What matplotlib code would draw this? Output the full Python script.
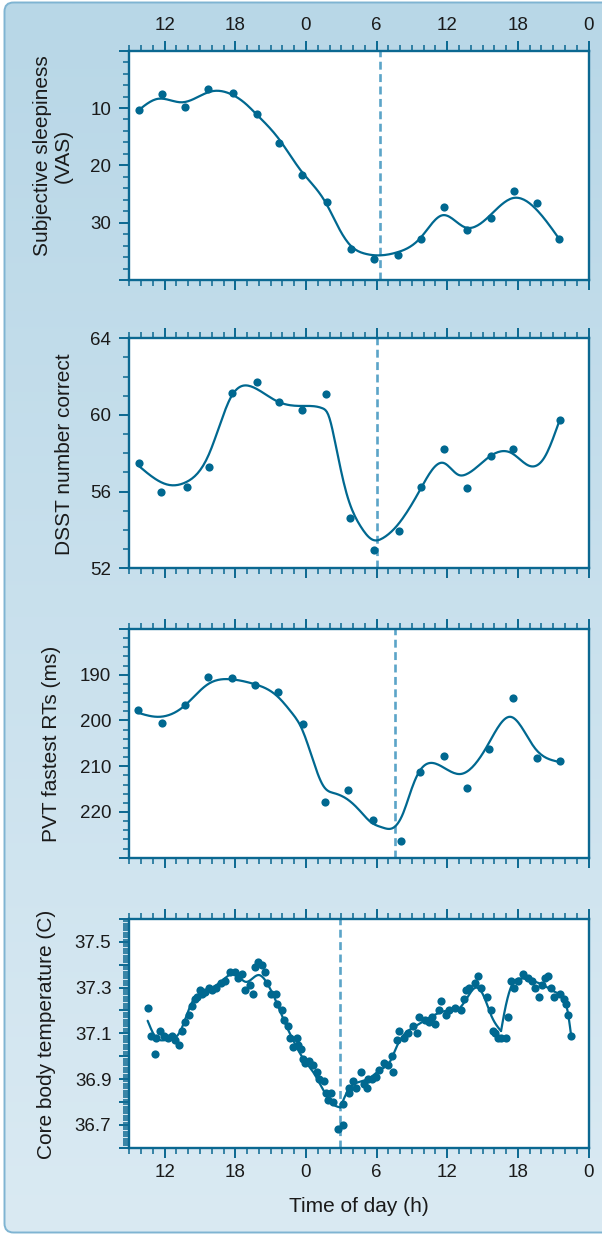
import numpy as np
import matplotlib
matplotlib.use("Agg")
import matplotlib.pyplot as plt
from matplotlib.ticker import MultipleLocator, FixedLocator, FuncFormatter
from matplotlib.patches import FancyBboxPatch

plt.rcParams['font.family'] = ['Liberation Sans', 'DejaVu Sans']

# ---------------- data (hours since midnight of day 1) ----------------
vas_hours = [9.8, 11.8, 13.7, 15.7, 17.8, 19.8, 21.7, 23.7, 25.8, 27.8,
             29.8, 31.8, 33.8, 35.7, 37.7, 39.7, 41.7, 43.6, 45.5]
vas_values = [10.4, 7.6, 9.9, 6.7, 7.4, 11.0, 16.1, 21.7, 26.4, 34.6,
              36.4, 35.7, 32.9, 27.3, 31.3, 29.2, 24.5, 26.6, 32.9]
vas_fit_hours = [9.8, 11.4, 13.5, 15.95, 17.6, 18.9, 19.75, 21.7, 23.6, 25.7,
                 26.7, 27.7, 29.0, 30.3, 31.7, 33.75, 35.6, 37.5, 39.6, 41.6,
                 43.5, 45.5]
vas_fit_values = [10.35, 8.4, 9.0, 7.1, 7.55, 9.3, 11.0, 15.4, 21.0, 26.6,
                  30.6, 33.8, 35.4, 35.7, 35.2, 32.6, 28.7, 30.8, 28.8, 25.7,
                  27.55, 32.8]
vas_marker = 30.3

dsst_hours = [9.8, 11.7, 13.9, 15.8, 17.7, 19.8, 21.7, 23.7, 25.7, 27.75,
              29.8, 31.9, 33.8, 35.75, 37.7, 39.7, 41.6, 45.6]
dsst_values = [57.5, 56.0, 56.24, 57.3, 61.17, 61.74, 60.66, 60.24, 61.08, 54.63,
               52.97, 53.93, 56.23, 58.2, 56.17, 57.88, 58.21, 59.72]
dsst_fit_hours = [9.78, 12.36, 13.83, 15.72, 16.92, 17.6, 19.5, 21.6, 23.6, 25.4,
                  25.9, 26.5, 27.36, 28.66, 29.7, 30.6, 31.7, 33.7, 35.67, 36.97,
                  37.6, 39.6, 41.5, 43.0, 44.3, 45.45]
dsst_fit_values = [57.35, 56.35, 56.5, 57.9, 59.9, 60.9, 61.45, 60.7, 60.47, 60.35,
                   60.0, 58.5, 56.1, 54.17, 53.48, 53.6, 54.2, 56.1, 57.5, 56.87,
                   56.9, 57.83, 58.0, 57.34, 57.83, 59.56]
dsst_marker = 30.0

pvt_hours = [9.77, 11.76, 13.7, 15.7, 17.75, 19.7, 21.65, 23.75, 25.6, 27.6,
             29.7, 32.05, 33.7, 35.7, 37.65, 39.55, 41.55, 43.6, 45.55]
pvt_values = [197.8, 200.5, 196.6, 190.4, 190.8, 192.2, 193.8, 200.8, 217.8, 215.1,
              221.8, 226.3, 211.3, 207.8, 214.7, 206.3, 195.1, 208.1, 208.8]
pvt_fit_hours = [9.72, 11.38, 13.63, 15.65, 17.64, 19.56, 21.52, 22.79, 23.61, 24.42,
                 25.5, 26.4, 27.5, 28.6, 29.5, 30.5, 31.3, 32.25, 32.9, 33.55,
                 35.18, 37.14, 39.39, 41.38, 43.43, 45.39]
pvt_fit_values = [198.3, 199.2, 196.9, 192.1, 191.0, 192.0, 194.6, 198.3, 201.6, 207.3,
                  214.4, 215.9, 217.2, 219.8, 222.2, 223.4, 223.6, 220.3, 215.5, 211.5,
                  209.6, 211.7, 205.6, 199.2, 206.0, 209.0]
pvt_marker = 31.6

temp_hours = [10.57, 10.83, 11.15, 11.28, 11.61, 11.93, 12.26, 12.65, 12.91, 13.24,
              13.50, 13.73, 14.05, 14.31, 14.58, 14.77, 14.97, 15.19, 15.46, 15.78,
              16.04, 16.34, 16.76, 17.09, 17.51, 18.00, 18.23, 18.59, 18.78, 19.21,
              19.47, 19.69, 19.92, 20.28, 20.51, 20.67, 21.00, 21.42, 21.55, 21.98,
              22.14, 22.47, 22.63, 22.89, 23.22, 23.35, 23.61, 23.71, 23.93, 24.26,
              24.59, 24.91, 25.07, 25.56, 25.73, 25.89, 26.12, 26.31, 26.70, 27.13,
              27.13, 27.62, 27.69, 28.01, 28.24, 28.66, 28.92, 29.18, 29.25, 29.64,
              29.97, 30.19, 30.62, 31.01, 31.27, 31.43, 31.69, 31.92, 32.31, 32.64,
              33.06, 33.39, 33.62, 34.11, 34.43, 34.69, 34.95, 35.28, 35.44, 35.90,
              36.16, 36.65, 37.14, 37.46, 37.56, 37.86, 38.38, 38.61, 38.83, 39.42,
              39.68, 39.88, 40.07, 40.33, 40.56, 40.95, 41.12, 41.38, 41.64, 42.03,
              42.42, 42.84, 43.17, 43.43, 43.82, 44.08, 44.31, 44.57, 44.80, 45.06,
              45.62, 45.88, 46.10, 46.27, 46.53]
temp_values = [37.21, 37.09, 37.01, 37.08, 37.11, 37.09, 37.08, 37.09, 37.07, 37.05,
               37.11, 37.15, 37.18, 37.22, 37.25, 37.26, 37.29, 37.27, 37.28, 37.30,
               37.29, 37.30, 37.32, 37.33, 37.37, 37.37, 37.34, 37.36, 37.29, 37.31,
               37.27, 37.39, 37.41, 37.40, 37.37, 37.32, 37.27, 37.27, 37.23, 37.20,
               37.16, 37.13, 37.08, 37.04, 37.08, 37.05, 37.03, 36.99, 36.97, 36.98,
               36.96, 36.93, 36.90, 36.89, 36.84, 36.81, 36.84, 36.80, 36.68, 36.70,
               36.79, 36.84, 36.86, 36.89, 36.86, 36.93, 36.88, 36.86, 36.90, 36.90,
               36.91, 36.94, 36.97, 36.96, 37.00, 36.93, 37.07, 37.11, 37.08, 37.10,
               37.13, 37.10, 37.17, 37.16, 37.15, 37.17, 37.14, 37.20, 37.24, 37.18,
               37.20, 37.21, 37.20, 37.25, 37.29, 37.30, 37.32, 37.35, 37.30, 37.26,
               37.20, 37.11, 37.10, 37.08, 37.08, 37.08, 37.17, 37.33, 37.30, 37.33,
               37.36, 37.34, 37.33, 37.30, 37.26, 37.31, 37.34, 37.35, 37.30, 37.26,
               37.27, 37.25, 37.23, 37.18, 37.09]
temp_fit_hours = [10.55, 11.2, 12.0, 12.62, 13.33, 14.17, 15.17, 16.2, 17.1, 17.97,
                  18.9, 20.0, 20.8, 21.5, 22.2, 22.93, 23.64, 24.62, 25.6, 26.3,
                  26.92, 27.57, 28.42, 29.42, 30.4, 31.1, 31.6, 32.25, 33.1, 34.2,
                  35.33, 36.18, 37.03, 37.74, 38.45, 39.15, 39.72, 40.57, 40.85, 41.14,
                  41.4, 42.2, 43.2, 44.2, 45.2, 45.9, 46.25, 46.5]
temp_fit_values = [37.155, 37.085, 37.07, 37.075, 37.11, 37.22, 37.28, 37.305, 37.34, 37.36,
                   37.325, 37.355, 37.31, 37.235, 37.148, 37.068, 37.0, 36.93, 36.84, 36.79,
                   36.776, 36.85, 36.886, 36.905, 36.944, 36.973, 37.03, 37.09, 37.125, 37.16,
                   37.19, 37.2, 37.21, 37.26, 37.30, 37.257, 37.18, 37.11, 37.19, 37.257,
                   37.30, 37.34, 37.33, 37.31, 37.28, 37.25, 37.19, 37.10]
temp_corners = [26.92, 40.57]
temp_marker = 26.92

hour_ticks = [12, 18, 24, 30, 36, 42, 48]
hour_labels = ['12', '18', '0', '6', '12', '18', '0']

# ---------------- styling ----------------
DARK = '#0b6891'
DOT = '#006890'
DASH = '#5ba4c8'
W, H = 602, 1236


def natural_spline(xk, yk, xs):
    xk = np.asarray(xk, float)
    yk = np.asarray(yk, float)
    n = len(xk)
    h = np.diff(xk)
    A = np.zeros((n, n))
    r = np.zeros(n)
    A[0, 0] = A[-1, -1] = 1.0
    for i in range(1, n - 1):
        A[i, i - 1] = h[i - 1]
        A[i, i] = 2 * (h[i - 1] + h[i])
        A[i, i + 1] = h[i]
        r[i] = 3 * ((yk[i + 1] - yk[i]) / h[i] - (yk[i] - yk[i - 1]) / h[i - 1])
    c = np.linalg.solve(A, r)
    b = (yk[1:] - yk[:-1]) / h - h * (2 * c[:-1] + c[1:]) / 3
    d = (c[1:] - c[:-1]) / (3 * h)
    idx = np.clip(np.searchsorted(xk, xs) - 1, 0, n - 2)
    dx = xs - xk[idx]
    return yk[idx] + b[idx] * dx + c[idx] * dx ** 2 + d[idx] * dx ** 3


def draw_fit(ax, hx, vy, corners=()):
    hx = np.asarray(hx, float)
    vy = np.asarray(vy, float)
    cuts = [hx[0]] + list(corners) + [hx[-1]]
    for a, b in zip(cuts[:-1], cuts[1:]):
        m = (hx >= a - 1e-9) & (hx <= b + 1e-9)
        xs = np.linspace(a, b, 300)
        ax.plot(xs, natural_spline(hx[m], vy[m], xs), color=DOT, lw=1.6,
                zorder=2, solid_capstyle='round')


def px_axes(top, bottom):
    left, right = 129.4, 588.5
    return [left / W, 1 - bottom / H, (right - left) / W, (bottom - top) / H]


fig = plt.figure(figsize=(W / 100, H / 100), dpi=100)

# panel background: rounded box with a vertical gradient
bg = fig.add_axes([0, 0, 1, 1], zorder=-10)
bg.set_xlim(0, W)
bg.set_ylim(H, 0)
bg.axis('off')
box = FancyBboxPatch((4.5, 2.5), 640, 1230, boxstyle='round,pad=0,rounding_size=9',
                     facecolor='none', edgecolor='#7fb4d2', lw=1.4, zorder=2)
bg.add_patch(box)
top_c = np.array([184, 215, 231]) / 255
bot_c = np.array([218, 234, 243]) / 255
t = np.linspace(0, 1, 256)[:, None, None]
grad = top_c[None, None, :] * (1 - t) + bot_c[None, None, :] * t
im = bg.imshow(grad, extent=(4.5, 645, 1233, 2.5), aspect='auto', zorder=1,
               interpolation='bilinear')
im.set_clip_path(box)

panels = [
    dict(rect=(50.7, 280.0), ylim=(40, 0), major=10, minor=2,
         blank=(0, 40), fmt='{:.0f}', pts=(vas_hours, vas_values),
         fit=(vas_fit_hours, vas_fit_values), corners=(), mark=vas_marker),
    dict(rect=(338.3, 568.3), ylim=(52, 64), major=4, minor=1,
         blank=(), fmt='{:.0f}', pts=(dsst_hours, dsst_values),
         fit=(dsst_fit_hours, dsst_fit_values), corners=(), mark=dsst_marker),
    dict(rect=(629.0, 857.7), ylim=(230, 180), major=10, minor=2,
         blank=(180, 230), fmt='{:.0f}', pts=(pvt_hours, pvt_values),
         fit=(pvt_fit_hours, pvt_fit_values), corners=(), mark=pvt_marker),
    dict(rect=(919.0, 1147.7), ylim=(36.6, 37.6), major=0.1, minor=0.01,
         blank='even', fmt='{:.1f}', pts=(temp_hours, temp_values),
         fit=(temp_fit_hours, temp_fit_values), corners=temp_corners,
         mark=temp_marker),
]

axes = []
for i, p in enumerate(panels):
    ax = fig.add_axes(px_axes(*p['rect']))
    ax.set_facecolor('white')
    ax.set_xlim(9, 48)
    ax.set_ylim(*p['ylim'])

    ax.axvline(p['mark'], color=DASH, lw=1.9, ls=(0, (3.0, 1.7)), zorder=1.5)
    draw_fit(ax, *p['fit'], corners=p['corners'])
    ax.plot(p['pts'][0], p['pts'][1], 'o', color=DOT, ms=5.9, mec='none', zorder=3)

    # x axis: hours of the day, ticks on both edges
    ax.xaxis.set_major_locator(FixedLocator(hour_ticks))
    ax.set_xticklabels(hour_labels)
    ax.xaxis.set_minor_locator(MultipleLocator(1))
    ax.tick_params(axis='x', which='both', top=True, bottom=True, direction='out',
                   colors=DARK, labelcolor='#1a1a1a', labelsize=13.5, pad=4.5,
                   labeltop=(i == 0), labelbottom=(i == 3))

    # y axis
    ax.yaxis.set_major_locator(MultipleLocator(p['major']))
    ax.yaxis.set_minor_locator(MultipleLocator(p['minor']))
    blank, fmt = p['blank'], p['fmt']

    def yfmt(v, pos, blank=blank, fmt=fmt):
        if blank == 'even':
            return fmt.format(v) if int(round(v * 10)) % 2 == 1 else ''
        if any(abs(v - b) < 1e-6 for b in blank):
            return ''
        return fmt.format(v)

    ax.yaxis.set_major_formatter(FuncFormatter(yfmt))
    ax.tick_params(axis='y', which='both', left=True, right=False, direction='out',
                   colors=DARK, labelcolor='#1a1a1a', labelsize=13.5, pad=5.5)

    ax.tick_params(which='major', length=7.5, width=1.4)
    ax.tick_params(which='minor', length=4.0, width=1.1)
    for s in ax.spines.values():
        s.set_color(DARK)
        s.set_linewidth(1.7)
    axes.append(ax)

# axis titles
label_kw = dict(rotation=90, ha='center', va='center', fontsize=15, color='#1a1a1a')
fig.text(52.5 / W, 1 - 156 / H, 'Subjective sleepiness\n(VAS)',
         multialignment='center', linespacing=1.1, **label_kw)
fig.text(64.3 / W, 1 - 454 / H, 'DSST number correct', **label_kw)
fig.text(51.8 / W, 1 - 744 / H, 'PVT fastest RTs (ms)', **label_kw)
fig.text(46.5 / W, 1 - 1034 / H, 'Core body temperature (C)', **label_kw)
fig.text(359 / W, 1 - 1206 / H, 'Time of day (h)', ha='center', va='center',
         fontsize=15, color='#1a1a1a')

fig.savefig('out.png', dpi=100)
